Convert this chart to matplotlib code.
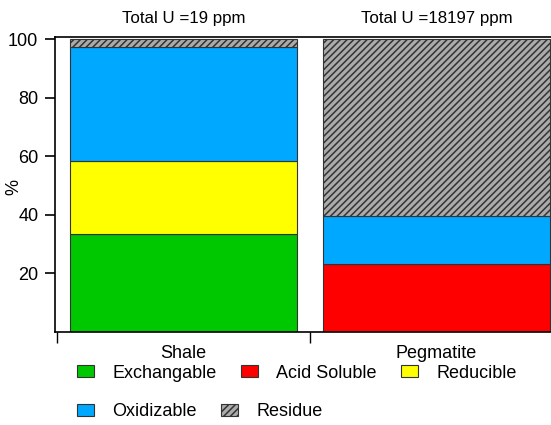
import matplotlib.pyplot as plt
from matplotlib.patches import Patch

plt.rcParams['font.family'] = ['Liberation Sans', 'DejaVu Sans']
plt.rcParams['hatch.color'] = '#1e1e1e'
plt.rcParams['hatch.linewidth'] = 1.1

# U fractions (%) per sample
samples = ["Shale", "Pegmatite"]
totals = ["Total U =19 ppm", "Total U =18197 ppm"]
fractions = ["Exchangable", "Acid Soluble", "Reducible", "Oxidizable", "Residue"]
exchangable = [33.3, 0.0]
acid_soluble = [0.0, 23.1]
reducible = [25.0, 0.0]
oxidizable = [39.0, 16.4]
residue = [2.7, 60.5]

colors = ["#00c800", "#ff0000", "#ffff00", "#00a8ff", "#ababab"]
hatches = [None, None, None, None, "/////"]

fig = plt.figure(figsize=(5.51, 4.25), dpi=100)
ax = fig.add_axes([55 / 551, 1 - 331.5 / 425, 496 / 551, 294.5 / 425])

x = [0, 1]
bottom = [0.0, 0.0]
for vals, c, h in zip([exchangable, acid_soluble, reducible, oxidizable, residue], colors, hatches):
    ax.bar(x, vals, width=0.9, bottom=bottom, color=c, hatch=h,
           edgecolor="#333333", linewidth=0.8)
    bottom = [b + v for b, v in zip(bottom, vals)]

for i, t in enumerate(totals):
    ax.text(i, 107.0, t, ha="center", va="center", fontsize=12.2, clip_on=False)

ax.set_yticks([20, 40, 60, 80, 100])
ax.set_xticks(x)
ax.set_xticklabels(samples)
ax.set_xticks([-0.5, 0.5, 1.5], minor=True)
# limits after the ticks so the outer boundary tick doesn't widen the view
ax.set_xlim(-0.508, 1.453)
ax.set_ylim(0, 100.7)
ax.tick_params(axis="x", which="major", length=0, pad=10, labelsize=13)
ax.tick_params(axis="x", which="minor", length=8, width=1)
ax.tick_params(axis="y", length=7, width=1.2, labelsize=13, pad=5)
ax.set_ylabel("%", fontsize=13)
ax.yaxis.set_label_coords(-33 / 496, 0.49)
ax.spines["right"].set_visible(False)
for s in ["left", "bottom", "top"]:
    ax.spines[s].set_linewidth(1.2)

handles = [Patch(facecolor=c, edgecolor="#333333", hatch=h, linewidth=0.8)
           for c, h in zip(colors, hatches)]
common = dict(frameon=False, fontsize=13, handlelength=0.95, handleheight=0.6,
              handletextpad=1.0, columnspacing=1.35, borderpad=0, borderaxespad=0)
fig.legend(handles[:3], fractions[:3], ncol=3, loc="center left",
           bbox_to_anchor=(77 / 551, 1 - 373 / 425), **common)
fig.legend(handles[3:], fractions[3:], ncol=2, loc="center left",
           bbox_to_anchor=(77 / 551, 1 - 412 / 425), **common)

fig.savefig("out.png", dpi=100)
